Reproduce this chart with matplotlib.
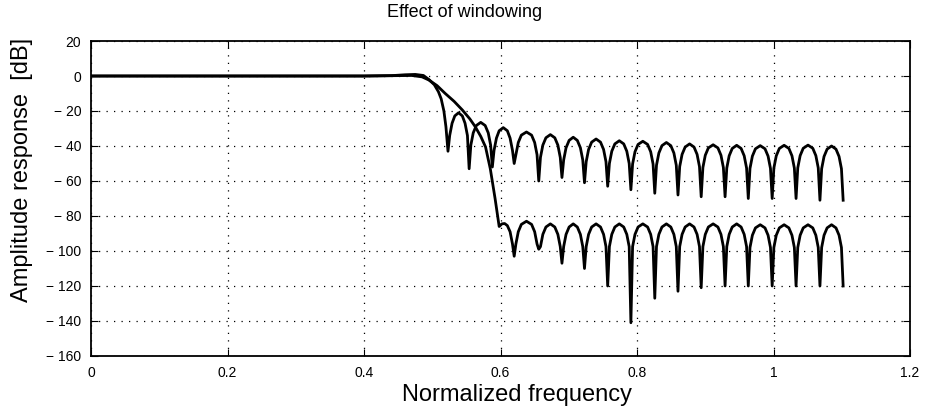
import numpy as np
import matplotlib
matplotlib.use("Agg")
import matplotlib.pyplot as plt

# passband + transition of the rectangular-window filter
f_rect_head = [0, 0.2, 0.4, 0.44, 0.46, 0.475, 0.487, 0.495, 0.503, 0.509,
               0.513, 0.517, 0.520,
               0.523, 0.5255, 0.529, 0.533, 0.5385, 0.544, 0.548, 0.5515,
               0.554, 0.5565, 0.560, 0.5645, 0.571, 0.5775, 0.582, 0.5855,
               0.588, 0.5905, 0.594, 0.598, 0.604, 0.610, 0.614, 0.6175]
db_rect_head = [0, 0, 0, 0.2, 0.7, 0.9, 0.3, -2, -5, -9,
                -13, -20, -29,
                -43, -34, -27, -22.8, -21, -22.8, -27, -34,
                -53, -39.5, -32.5, -28.3, -26.5, -28.3, -32.5, -39.5,
                -52, -42.5, -35.5, -31.3, -29.5, -31.3, -35.5, -42.5]

# passband + transition of the windowed filter
f_win_head = [0, 0.2, 0.4, 0.45, 0.47, 0.485, 0.495, 0.507, 0.519, 0.532, 0.544,
              0.555, 0.563, 0.571, 0.578, 0.585, 0.592, 0.598, 0.602, 0.606, 0.610,
              0.614, 0.6175]
db_win_head = [0, 0, 0, 0.2, 0.3, -0.5, -2.3, -5.5, -10, -14.5, -19.4,
               -24.5, -29, -34.5, -40.5, -53, -70, -86, -84.5, -84.3, -85.5,
               -89, -96]

# stopband sidelobes, same frequencies for both curves
f_side = [0.620, 0.6225, 0.626, 0.6305, 0.638, 0.6455, 0.650, 0.6535,
          0.656, 0.6585, 0.662, 0.6665, 0.673, 0.6795, 0.684, 0.6875,
          0.690, 0.6925, 0.696, 0.7005, 0.7065, 0.7125, 0.717, 0.7205,
          0.723, 0.7255, 0.729, 0.7335, 0.740, 0.7465, 0.751, 0.7545,
          0.757, 0.7595, 0.763, 0.7675, 0.774, 0.7805, 0.785, 0.7885,
          0.791, 0.7935, 0.797, 0.8015, 0.8085, 0.8155, 0.820, 0.8235,
          0.826, 0.8285, 0.832, 0.8365, 0.843, 0.8495, 0.854, 0.8575,
          0.860, 0.8625, 0.866, 0.8705, 0.877, 0.8835, 0.888, 0.8915,
          0.894, 0.8965, 0.900, 0.9045, 0.9115, 0.9185, 0.923, 0.9265,
          0.929, 0.9315, 0.935, 0.9395, 0.946, 0.9525, 0.957, 0.9605,
          0.963, 0.9655, 0.969, 0.9735, 0.9805, 0.9875, 0.992, 0.9955,
          0.998, 1.0005, 1.004, 1.0085, 1.0155, 1.0225, 1.027, 1.0305,
          1.033, 1.0355, 1.039, 1.0435, 1.0505, 1.0575, 1.062, 1.0655,
          1.068, 1.0705, 1.074, 1.0785, 1.085, 1.0915, 1.096, 1.0995,
          1.102]

db_rect_side = [-50, -45, -38, -33.8, -32, -33.8, -38, -45,
                -60, -46.5, -39.5, -35.3, -33.5, -35.3, -39.5, -46.5,
                -58, -48, -41, -36.8, -35, -36.8, -41, -48,
                -61, -49, -42, -37.8, -36, -37.8, -42, -49,
                -63, -50, -43, -38.8, -37, -38.8, -43, -50,
                -65, -50.3, -43.3, -39.1, -37.3, -39.1, -43.3, -50.3,
                -67, -51, -44, -39.8, -38, -39.8, -44, -51,
                -68, -51.8, -44.8, -40.6, -38.8, -40.6, -44.8, -51.8,
                -69, -52.3, -45.3, -41.1, -39.3, -41.1, -45.3, -52.3,
                -69, -52.6, -45.6, -41.4, -39.6, -41.4, -45.6, -52.6,
                -70, -52.8, -45.8, -41.6, -39.8, -41.6, -45.8, -52.8,
                -70, -52.6, -45.6, -41.4, -39.6, -41.4, -45.6, -52.6,
                -70, -52.5, -45.5, -41.3, -39.5, -41.3, -45.5, -52.5,
                -71, -53, -46, -41.8, -40, -41.8, -46, -53,
                -71]

db_win_side = [-103, -96, -89, -84.8, -83, -84.8, -89, -96,
               -99, -97.5, -90.5, -86.3, -84.5, -86.3, -90.5, -97.5,
               -107, -97.5, -90.5, -86.3, -84.5, -86.3, -90.5, -97.5,
               -110, -97.5, -90.5, -86.3, -84.5, -86.3, -90.5, -97.5,
               -120, -97.5, -90.5, -86.3, -84.5, -86.3, -90.5, -97.5,
               -141, -97.5, -90.5, -86.3, -84.5, -86.3, -90.5, -97.5,
               -127, -97.5, -90.5, -86.3, -84.5, -86.3, -90.5, -97.5,
               -123, -97.5, -90.5, -86.3, -84.5, -86.3, -90.5, -97.5,
               -121, -97.5, -90.5, -86.3, -84.5, -86.3, -90.5, -97.5,
               -120, -97.5, -90.5, -86.3, -84.5, -86.3, -90.5, -97.5,
               -120, -98, -91, -86.8, -85, -86.8, -91, -98,
               -120, -98, -91, -86.8, -85, -86.8, -91, -98,
               -120, -98, -91, -86.8, -85, -86.8, -91, -98,
               -120, -98, -91, -86.8, -85, -86.8, -91, -98,
               -120]

x_ticks = [0, 0.2, 0.4, 0.6, 0.8, 1.0, 1.2]
x_labels = ["0", "0.2", "0.4", "0.6", "0.8", "1", "1.2"]
y_ticks = list(range(20, -161, -20))

plt.rcParams['font.family'] = ['Liberation Sans', 'DejaVu Sans']

fig = plt.figure(figsize=(9.27, 4.15), dpi=100)
ax = fig.add_axes([0.0982, 0.1422, 0.8835, 0.759])

ax.plot(f_rect_head + f_side, db_rect_head + db_rect_side, color='black',
        lw=2.0, solid_joinstyle='round')
ax.plot(f_win_head + f_side, db_win_head + db_win_side, color='black',
        lw=2.0, solid_joinstyle='round')

ax.set_xlim(0, 1.2)
ax.set_ylim(-160, 20)
ax.set_xticks(x_ticks)
ax.set_xticklabels(x_labels)
ax.set_yticks(y_ticks)
ax.set_yticklabels([str(v).replace('-', '\u2212 ') for v in y_ticks])
ax.tick_params(direction='in', length=5, labelsize=10, top=True, right=True,
               pad=7)
ax.grid(True, color='black', linestyle=(0, (1, 5)), linewidth=0.9)
for s in ax.spines.values():
    s.set_linewidth(1.3)

ax.set_title("Effect of windowing", fontsize=13, pad=17, x=0.456)
ax.set_xlabel("Normalized frequency", fontsize=17)
ax.xaxis.set_label_coords(0.52, -0.09)
ax.set_ylabel("Amplitude response  [dB]", fontsize=17)
ax.yaxis.set_label_coords(-0.071, 0.59)

fig.savefig("out.png", dpi=100)
plt.close(fig)
